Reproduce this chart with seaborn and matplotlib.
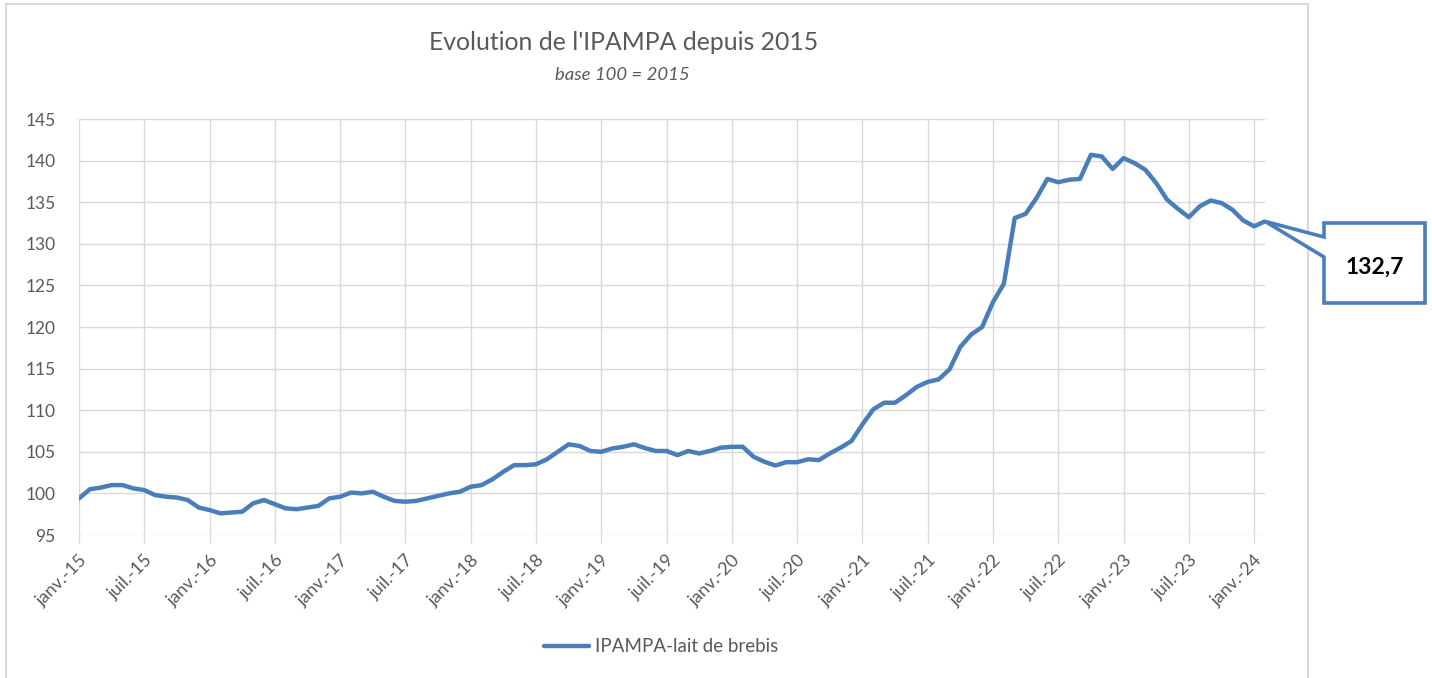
import numpy as np
import pandas as pd
import seaborn as sns
import matplotlib.pyplot as plt
from matplotlib.patches import Rectangle, Polygon

# IPAMPA-lait de brebis, monthly, base 100 = 2015 (janv.-15 .. fevr.-24)
y2015 = [99.4, 100.5, 100.7, 101.0, 101.0, 100.6, 100.4, 99.8, 99.6, 99.5, 99.2, 98.3]
y2016 = [98.0, 97.6, 97.7, 97.8, 98.8, 99.2, 98.7, 98.2, 98.1, 98.3, 98.5, 99.4]
y2017 = [99.6, 100.1, 100.0, 100.2, 99.6, 99.1, 99.0, 99.1, 99.4, 99.7, 100.0, 100.2]
y2018 = [100.8, 101.0, 101.7, 102.6, 103.4, 103.4, 103.5, 104.1, 105.0, 105.9, 105.7, 105.1]
y2019 = [105.0, 105.4, 105.6, 105.9, 105.45, 105.1, 105.1, 104.6, 105.1, 104.8, 105.1, 105.5]
y2020 = [105.6, 105.6, 104.4, 103.8, 103.35, 103.75, 103.75, 104.1, 104.0, 104.8, 105.5, 106.3]
y2021 = [108.3, 110.1, 110.9, 110.9, 111.8, 112.8, 113.4, 113.7, 114.9, 117.6, 119.1, 120.0]
y2022 = [123.0, 125.2, 133.1, 133.6, 135.5, 137.8, 137.4, 137.7, 137.8, 140.7, 140.5, 139.0]
y2023 = [140.3, 139.7, 138.9, 137.3, 135.3, 134.2, 133.2, 134.5, 135.2, 134.9, 134.1, 132.8]
y2024 = [132.1, 132.7]

values = y2015 + y2016 + y2017 + y2018 + y2019 + y2020 + y2021 + y2022 + y2023 + y2024

tick_labels = ['janv.-15', 'juil.-15', 'janv.-16', 'juil.-16', 'janv.-17', 'juil.-17',
               'janv.-18', 'juil.-18', 'janv.-19', 'juil.-19', 'janv.-20', 'juil.-20',
               'janv.-21', 'juil.-21', 'janv.-22', 'juil.-22', 'janv.-23', 'juil.-23',
               'janv.-24']
series_name = 'IPAMPA-lait de brebis'
last_label = '132,7'

df = pd.DataFrame({'mois': np.arange(len(values)), 'indice': values})

sns.set_theme(style='white')
plt.rcParams['font.family'] = ['Lato', 'DejaVu Sans']

W, H = 1432, 678
fig = plt.figure(figsize=(W / 100, H / 100), dpi=100)
ax = fig.add_axes([79 / W, 1 - 535 / H, (1265 - 79) / W, (535 - 119) / H])

blue = '#4a7ebb'
grid = '#d9d9d9'
grey = '#595959'

sns.lineplot(data=df, x='mois', y='indice', ax=ax, color=blue, linewidth=3.2,
             label=series_name, legend=False)

ax.set_xlim(0, len(values) - 1)
ax.set_ylim(95, 145)
ax.set_yticks(np.arange(95, 146, 5))
ax.set_xticks(np.arange(0, 6 * len(tick_labels), 6))
ax.set_xticklabels(tick_labels, rotation=45, ha='right', rotation_mode='anchor')
ax.tick_params(axis='x', colors=grid, labelcolor=grey, labelsize=13, length=6,
               width=1, direction='out', pad=6, bottom=True)
ax.tick_params(axis='y', labelcolor=grey, labelsize=12.5, length=0, pad=17)
ax.grid(True, color=grid, linewidth=1)
for s in ax.spines.values():
    s.set_visible(False)
ax.set_xlabel('')
ax.set_ylabel('')

# titles
fig.text(624 / W, 1 - 43 / H, "Evolution de l'IPAMPA depuis 2015", ha='center', va='center',
         fontsize=17.8, color=grey)
fig.text(622 / W, 1 - 75 / H, 'base 100 = 2015', ha='center', va='center',
         fontsize=13.3, style='italic', color=grey)

# legend
fig.legend(loc='center', bbox_to_anchor=(661 / W, 1 - 647 / H), frameon=False,
           fontsize=13.5, handlelength=2.4, handletextpad=0.3, labelcolor=grey)

# chart frame
fig.patches.append(Rectangle((6 / W, -0.05), (1308 - 6) / W, 1 - 4 / H + 0.05,
                             transform=fig.transFigure, fill=False,
                             edgecolor=grid, linewidth=1.5))

# callout for the last value
fig.canvas.draw()
tip = fig.transFigure.inverted().transform(
    ax.transData.transform((len(values) - 1, values[-1])))
bx0, bx1, by0, by1 = 1324, 1425, 223, 303
verts = [(bx0, by0), (bx1, by0), (bx1, by1), (bx0, by1), (bx0, 257),
         (tip[0] * W, (1 - tip[1]) * H), (bx0, 237)]
verts = [(x / W, 1 - y / H) for x, y in verts]
fig.patches.append(Polygon(verts, closed=True, transform=fig.transFigure,
                           facecolor='white', edgecolor=blue, linewidth=2.6))
fig.text((bx0 + bx1) / 2 / W, 1 - 267 / H, last_label, ha='center', va='center',
         fontsize=16.5, fontweight='bold', color='black')

fig.savefig('out.png', dpi=100)
